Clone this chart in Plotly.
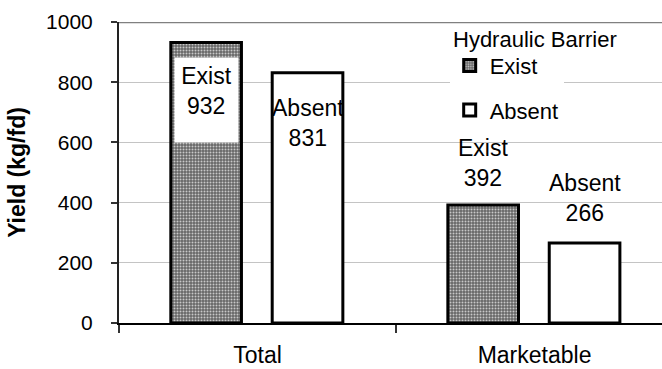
import plotly.graph_objects as go

# Yield by crop fraction, with and without the hydraulic barrier
categories = ["Total", "Marketable"]
exist_yield = [932, 392]
absent_yield = [831, 266]
series_names = ["Exist", "Absent"]
legend_title = "Hydraulic Barrier"
y_ticks = [0, 200, 400, 600, 800, 1000]

FONT = "Liberation Sans, Arial, sans-serif"
BAR_W = 0.255
OFF_EXIST = -0.313
OFF_ABSENT = 0.053

fig = go.Figure()

fig.add_trace(go.Bar(
    x=categories, y=exist_yield, name=series_names[0],
    width=BAR_W, offset=OFF_EXIST, legendgroup="a",
    marker=dict(
        color="#7a7a7a",
        line=dict(color="black", width=3),
        pattern=dict(shape=".", bgcolor="#666666", fgcolor="#c8c8c8",
                     size=3, solidity=0.35, fillmode="replace"),
    ),
))
fig.add_trace(go.Bar(
    x=categories, y=absent_yield, name=series_names[1],
    width=BAR_W, offset=OFF_ABSENT, legendgroup="b",
    marker=dict(color="white", line=dict(color="black", width=3)),
))

# value labels: name on the first line, value on the second
label_specs = [
    # (category index, bar offset, value, name, anchor, shift, boxed)
    (0, OFF_EXIST, exist_yield[0], series_names[0], "top", -15, True),
    (0, OFF_ABSENT, absent_yield[0], series_names[1], "top", -20, False),
    (1, OFF_EXIST, exist_yield[1], series_names[0], "bottom", 12, False),
    (1, OFF_ABSENT, absent_yield[1], series_names[1], "bottom", 15, False),
]
for ci, off, val, nm, anchor, shift, boxed in label_specs:
    ann = dict(
        x=ci + off + BAR_W / 2, y=val, xref="x", yref="y",
        text=f"{nm}<br>{val}", showarrow=False,
        yanchor=anchor, yshift=shift,
        font=dict(family=FONT, size=23, color="black"),
    )
    if boxed:
        ann.update(bgcolor="white", width=53, height=74, valign="top",
                   borderpad=5)
    fig.add_annotation(**ann)

# legend heading
fig.add_annotation(
    x=0.611, y=1.0, xref="paper", yref="paper",
    xanchor="left", yanchor="middle", yshift=-17,
    text=legend_title, showarrow=False,
    font=dict(family=FONT, size=22, color="black"),
)

# top frame line at the axis maximum
fig.add_shape(type="line", xref="paper", yref="y", x0=0, x1=1,
              y0=1000, y1=1000, line=dict(color="#808080", width=2.5))

fig.update_layout(
    width=662, height=369,
    margin=dict(l=119, r=0, t=22, b=46),
    paper_bgcolor="white", plot_bgcolor="white",
    barmode="overlay",
    font=dict(family=FONT, size=23, color="black"),
    showlegend=True,
    legend=dict(
        x=0.609, y=0.925, xanchor="left", yanchor="top",
        bgcolor="rgba(255,255,255,1)",
        font=dict(size=22), traceorder="grouped", tracegroupgap=13,
        itemwidth=30,
    ),
    xaxis=dict(
        type="category", range=[-0.5, 1.46],
        tickson="boundaries", ticks="outside", ticklen=8,
        tickcolor="#333", tickwidth=1.5,
        showline=True, linecolor="black", linewidth=2,
        showgrid=False, ticklabelstandoff=10,
        tickfont=dict(size=23),
    ),
    yaxis=dict(
        range=[0, 1000], tickvals=y_ticks,
        ticks="outside", ticklen=6, tickcolor="#333", tickwidth=1.5,
        showline=True, linecolor="#222", linewidth=2,
        showgrid=True, gridcolor="#c4c4c4", gridwidth=1,
        zeroline=False, ticklabelstandoff=14,
        tickfont=dict(size=21),
        title=dict(text="<b>Yield (kg/fd)</b>", standoff=14,
                   font=dict(size=23)),
    ),
)

fig.write_html("out.html")
